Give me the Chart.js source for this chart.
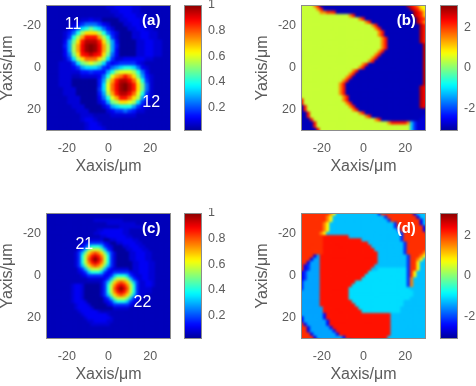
<!DOCTYPE html>
<html>
<head>
<meta charset="utf-8">
<script src="https://cdn.jsdelivr.net/npm/chart.js@4"></script>
<style>
  html, body { margin: 0; padding: 0; background: #fff; width: 476px; height: 386px; overflow: hidden; }
  .box { position: absolute; }
  canvas { filter: blur(0.4px); }
</style>
</head>
<body>
<script>
// --- Data: one character per cell, base 36, 0 = bottom of colour range, z = top ---
const ampA = [
  "2222222222222233444433222222222",
  "2222222222222223344443322222222",
  "2222222222222222334443322222222",
  "2222222222222222233444332222222",
  "2222222223343311113344433222222",
  "2222222346888643111334433222222",
  "222222358cehec853111334433" + "22222",
  "22222358ejnnnje853111334433" + "2222",
  "2222236ejpuuupje63111334433" + "2222",
  "222224ahnuxxxunha41111334433" + "222",
  "222225ajpvyzyvpja51111334433" + "222",
  "222224ajpvyzyvpja41111334433" + "222",
  "2222248hnuvxvunh841111334433" + "222",
  "2222236cjnrrrnjc633444" + "443322222",
  "22223336chjljhc645666643" + "2222222",
  "222233346accca658aceec843" + "222222",
  "22223333355655" + "5aejlllje84" + "222222",
  "2222333" + "223333" + "48elprurnha53" + "22222",
  "2222333" + "111111" + "5ajpuxxvrle63" + "22222",
  "2222333" + "111111" + "5clrvyzxunh83" + "22222",
  "22222333" + "11111" + "6clrvyzxunh83" + "22222",
  "22222333" + "11111" + "5ajpuxxvrle63" + "22222",
  "222222333" + "1111" + "48elpuurnja53" + "22222",
  "222222333" + "1111" + "35ahjnnljc632" + "22222",
  "2222222333" + "1111" + "35aceeea643" + "222222",
  "22222222333" + "1111" + "346686533" + "2222222",
  "2222222223332222333333222222222",
  "2222222223443222222222222222222",
  "2222222222344322222222222222222",
  "2222222222344432222222222222222",
  "2222222222344443222222222222222"
];
const ampC = [
  "22222222222222222222222222222222222222222",
  "22222222222222222222222222222222222222222",
  "22222222222222222222222222222222222222222",
  "22222222222222223333333332222222222222222",
  "22222222222222222222333333333222222222222",
  "22222222222222222222222233333332222222222",
  "22222222222222222334444443322222222222222",
  "22222222222222223344444443322222222222222",
  "22222222222222222233444444332222222222222",
  "22222222222222" + "33333" + "11" + "334444433" + "22222222222",
  "222222222222" + "346666643" + "11" + "33444433" + "2222222222",
  "22222222222" + "346beeeb643" + "111" + "3344433" + "222222222",
  "22222222222" + "46bhkkkhb64" + "1111" + "3344433" + "22222222",
  "2222222222" + "36bhnqsqnhb63" + "1111" + "3344433" + "2222222",
  "2222222222" + "36ekquwuqke63" + "1111" + "3344433" + "2222222",
  "2222222222" + "36ekswzwske63" + "1111" + "3344433" + "2222222",
  "2222222222" + "36ekquwuqke63" + "11111" + "3344433" + "222222",
  "2222222222" + "36bhnqsqnhb63" + "11111" + "3344433" + "222222",
  "22222222222" + "46bhkkkhb64" + "33333" + "1" + "3344433" + "222222",
  "22222222222" + "346beeeb6" + "44" + "6666643" + "344433" + "222222",
  "222222222222" + "3466666" + "44" + "6beeeb643" + "34433" + "222222",
  "22222222222222" + "33333" + "46bhkkkhb64" + "34433" + "222222",
  "222222222222222222" + "36bhnqsqnhb63" + "3443" + "222222",
  "222222222" + "3443" + "11111" + "36ekquwuqke63" + "3443" + "222222",
  "222222222" + "3443" + "11111" + "36ekswzwske63" + "3332" + "222222",
  "222222222" + "3443" + "11111" + "36ekquwuqke63" + "3332" + "222222",
  "222222222" + "3443" + "11111" + "36bhnqsqnhb63" + "3222" + "222222",
  "222222222" + "3443" + "111111" + "46bhkkkhb64" + "22222222222",
  "222222222" + "34443" + "11111" + "346beeeb643" + "22222222222",
  "2222222222" + "34443" + "11111" + "346666643" + "222222222222",
  "2222222222" + "344443" + "111111" + "33333" + "22222222222222",
  "22222222222344444322222222222222222222222",
  "22222222222234444444322222222222222222222",
  "22222222222223444444432222222222222222222",
  "22222222222222334444332222222222222222222",
  "22222222222222233333322222222222222222222",
  "22222222222222222222222222222222222222222",
  "22222222222222222222222222222222222222222",
  "22222222222222222222222222222222222222222",
  "22222222222222222222222222222222222222222",
  "22222222222222222222222222222222222222222"
];
const phaseB = [
  "kkkkkqu22222222222222222222222222xvtqnmll",
  "kkkkkqu222222222222222222222222222xvtqmll",
  "kkkkkkqu222222222222222222222222222xvtoml",
  "kkkkkkkqqttu222222222222222222222222xvtom",
  "kkkkkkkkkkkkkkkkqu222222222222222222xvtom",
  "kkkkkkkkkkkkkkkkkkkqu2222222222222222xutn",
  "kkkkkkkkkkkkkkkkkkkkkqu22222222222222xuqn",
  "kkkkkkkkkkkkkkkkkkkkkkkqu2222222222222xuq",
  "kkkkkkkkkkkkkkkkkkkkkkkkqu222222222222xuq",
  "kkkkkkkkkkkkkkkkkkkkkkkkkqu22222222222xuq",
  "kkkkkkkkkkkkkkkkkkkkkkkkkqu22222222222xuq",
  "kkkkkkkkkkkkkkkkkkkkkkkkkkqu2222222222xuq",
  "kkkkkkkkkkkkkkkkkkkkkkkkkkqu2222222222xuq",
  "kkkkkkkkkkkkkkkkkkkkkkkkkkqu22222222222xu",
  "kkkkkkkkkkkkkkkkkkkkkkkkkkqu22222222222xu",
  "5kkkkkkkkkkkkkkkkkkkkkkkkqu222222222222xu",
  "5kkkkkkkkkkkkkkkkkkkkkkkqu2222222222222xu",
  "5kkkkkkkkkkkkkkkkkkkkkkqu22222222222222xu",
  "5kkkkkkkkkkkkkkkkkkkkkqu222222222222222xu",
  "5kkkkkkkkkkkkkkkkkkkqu22222222222222222xu",
  "5kkkkkkkkkkkkkkkkkkqu222222222222222222xu",
  "5kkkkkkkkkkkkkkkkqu22222222222222222222xu",
  "5kkkkkkkkkkkkkkkqu222222222222222222222xu",
  "5kkkkkkkkkkkkkkqu2222222222222222222222xu",
  "5kkkkkkkkkkkkkqu22222222222222222222222xu",
  "5kkkkkkkkkkkkqu222222222222222222222222xu",
  "5kkkkkkkkkkkkqu22222222222222222222222xvu",
  "5kkkkkkkkkkkkqu22222222222222222222222xvu",
  "5kkkkkkkkkkkkqu22222222222222222222222xvu",
  "ukkkkkkkkkkkkkqu2222222222222222222222xvu",
  "3ukkkkkkkkkkkkqu2222222222222222222222xvu",
  "2ukkkkkkkkkkkkkqu222222222222222222222xvu",
  "22ukkkkkkkkkkkkkqu22222222222222222222xv2",
  "22ukkkkkkkkkkkkkkqu2222222222222222222223",
  "222ukkkkkkkkkkkkkkkqu22222222222222222223",
  "222ukkkkkkkkkkkkkkkkkqu222222222222222233",
  "2222ukkkkkkkkkkkkkkkkkkkqu222222222222333",
  "22222ukkkkkkkkkkkkkkkkkkkkkkquuuuuqb63333",
  "22222ukkkkkkkkkkkkkkkkkkkkkkkkkkkkkb63333",
  "222222ukkkkkkkkkkkkkkkkkkkkkkkkkkkkb63333",
  "222222ukkkkkkkkkkkkkkkkkkkkkkkkkkkkb63333"
];
const phaseD = [
  "ttttttttttqmbbbbbbbbbbb6ttttttttttt4bbbbb",
  "ttttttttttqmbbbbbbbbbbbbb6tttttttttt4bbbb",
  "tttttttttqmbbbbbbbbbbbbbbbb6ttttttttt4bbb",
  "tttttttttqmbbbbbbbbbbbbbbbbb6ttttttttt4bb",
  "ttttttttqmbbbbbbbbbbbbbbbbbbbb6ttttttt4bb",
  "ttttttttqmbbbbbbbbbbbbbbbbbbbb6tttttttt4b",
  "ttttttttqmbbbbbbbbbbbbbbbbbbbbb6ttttttt4b",
  "tttttttqmbbbbbbbbbbbbbbbbbbbbbbb6ttttttt4",
  "ttttttttuuuuuuuubbbbbbbbbbbbbbbb6tttttttt",
  "ttttttttuuuuuuuuuuuubbbbbbbbbbbb6tttttttt",
  "ttttttttuuuuuuuuuuuuuubbbbbbbbbbb6ttttttt",
  "ttttttttuuuuuuuuuuuuuuubbbbbbbbbb6ttttttt",
  "ttttttttuuuuuuuuuuuuuuuubbbbbbbbb6ttttttq",
  "ttttttttuuuuuuuuuuuuuuuuubbbbbbbb6tttttqm",
  "ttttt4auuuuuuuuuuuuuuuuuubbbbbbbbb6tttqmb",
  "tttt4aauuuuuuuuuuuuuuuuuubbbbbbbbb6ttqmbb",
  "ttt4aaauuuuuuuuuuuuuuuuuubbbbbbbbb6ttmbbb",
  "tt46aaauuuuuuuuuuuuuuuuubbbbbbbbbb6ttmbbb",
  "tt46aaauuuuuuuuuuuuuuuubbccccccccc6ttmbbb",
  "t46aaaauuuuuuuuuuuuuuucccccccccccc6tmbbbb",
  "t46aaaauuuuuuuuuuuuuuccccccccccccc6tmbbbb",
  "t46aaaauuuuuuuuuuuuucccccccccccccc6qbbbbb",
  "46aaaaauuuuuuuuuuucccccccccccccccc6qbbbbb",
  "46aaaaauuuuuuuuuuccccccccccccccccc6qbbbbb",
  "46aaaaauuuuuuuuucccccccccccccccccccbbbbbb",
  "4aaaaaauuuuuuuuuccccccccccccccccccccbbbbb",
  "4aaaaaauuuuuuuuuccccccccccccccccccccbbbbb",
  "4aaaaaauuuuuuuuucccccccccccccccccccbbbbbb",
  "4aaaaaauuuuuuuuuuccccccccccccccccbbbbbbbb",
  "4aaaaaauuuuuuuuuuucccccccccccccccbbbbbbbb",
  "4aaaaaaauuuuuuuuuuucccccccccccccbbbbbbbbb",
  "4aaaaaaauuuuuuuuuuuuccccccccccccbbbbbbbbb",
  "3aaaaaaa5uuuuuuuuuuuuuuuuuuuubbbbbbbbbbbb",
  "t4aaaaaa5uuuuuuuuuuuuuuuuuuuubbbbbbbbbbbb",
  "t4aaaaaaa5uuuuuuuuuuuuuuuuuuubbbbbbbbbbbb",
  "tt4aaaaaa5uuuuuuuuuuuuuuuuuuubbbbbbbbbbbb",
  "ttt4aaaaaa5uuuuuuuuuuuuuuuuuubbbbbbbbbbbb",
  "ttt4aaaaaaa5uuuuuuuuuuuuuuuuubbbbbbbbbbbb",
  "tttt4aaaaaaa5uuuuuuuuuuuuuuuubbbbbbbbbbbb",
  "ttttt4aaaaaaaa5uuuuuuuuuuuuubbbbbbbbbbbbb",
  "tttttt4aaaaaaaaa5uuuuuuuuuuubbbbbbbbbbbbb"
];
const axisTicks = [-20, 0, 20];
const ampBarTicks = [0.2, 0.4, 0.6, 0.8, 1];
const phaseBarTicks = [-2, 0, 2];
const barLevels = [0.0125,0.0375,0.0625,0.0875,0.1125,0.1375,0.1625,0.1875,0.2125,0.2375,
  0.2625,0.2875,0.3125,0.3375,0.3625,0.3875,0.4125,0.4375,0.4625,0.4875,
  0.5125,0.5375,0.5625,0.5875,0.6125,0.6375,0.6625,0.6875,0.7125,0.7375,
  0.7625,0.7875,0.8125,0.8375,0.8625,0.8875,0.9125,0.9375,0.9625,0.9875];
const labelsA = [["11", -17, -20.5, false], ["12", 20.5, 16.5, false], ["(a)", 20.5, -22.5, true]];
const labelsB = [["(b)", 20.5, -22.5, true]];
const labelsC = [["21", -11.6, -15, false], ["22", 16.3, 12.5, false], ["(c)", 20.5, -22.5, true]];
const labelsD = [["(d)", 20.5, -22.5, true]];

const GREY = "#5c5c5c";
const FONT = "'Liberation Sans', Arial, sans-serif";

// --- Colour map ---
function jet(v) {
  const c = k => Math.round(255 * Math.min(1, Math.max(0, 1.5 - Math.abs(4 * v - k))));
  return `rgb(${c(3)},${c(2)},${c(1)})`;
}

// --- Page helpers ---
function addCanvas(left, top, w, h) {
  const box = document.createElement("div");
  box.className = "box";
  box.style.cssText = `left:${left}px;top:${top}px;width:${w}px;height:${h}px`;
  const cv = document.createElement("canvas");
  cv.width = w; cv.height = h;
  box.appendChild(cv);
  document.body.appendChild(box);
  return cv;
}

function setTicks(values) {
  return s => { s.ticks = values.map(v => ({ value: v })); };
}

// scale boxes would otherwise reserve room for half a tick label
function fixSize(s, key, size) {
  s[key] = size;
  s.paddingTop = s.paddingBottom = s.paddingLeft = s.paddingRight = 0;
}

// soft look of the source picture, and the frame + text on top
const panelPlugin = {
  id: "panel",
  afterDatasetsDraw(chart, args, opts) {
    const { ctx, chartArea: a, canvas } = chart;
    ctx.save();
    ctx.beginPath();
    ctx.rect(a.left, a.top, a.width, a.height);
    ctx.clip();
    ctx.filter = `blur(${opts.blur}px)`;
    ctx.drawImage(canvas, a.left, a.top, a.width, a.height, a.left - 2, a.top - 2, a.width + 4, a.height + 4);
    ctx.restore();
  },
  afterDraw(chart, args, opts) {
    const { ctx, chartArea: a, scales } = chart;
    ctx.save();
    ctx.strokeStyle = "#8c8c8c";
    ctx.lineWidth = 1;
    ctx.strokeRect(a.left + 0.5, a.top + 0.5, a.width - 1, a.height - 1);
    ctx.textAlign = "center";
    ctx.textBaseline = "middle";
    ctx.fillStyle = "#fff";
    (opts.labels || []).forEach(([t, x, y, bold]) => {
      ctx.font = (bold ? "bold 15px " : "16px ") + FONT;
      ctx.fillText(t, scales.x.getPixelForValue(x), scales.y.getPixelForValue(y));
    });
    ctx.restore();
  }
};
Chart.register(panelPlugin);

// --- Heat map panel ---
function drawPanel(left, top, rows, labels, blur) {
  const n = rows.length;
  const pts = [], colors = [];
  rows.forEach((row, j) => {
    [...row].forEach((ch, i) => {
      const v = parseInt(ch, 36) / 35;
      pts.push({ x: -30 + i * 60 / (n - 1), y: -30 + j * 60 / (n - 1) });
      colors.push(jet(v));
    });
  });
  const cell = 125 / (n - 1);
  new Chart(addCanvas(left, top, 176, 180), {
    type: "scatter",
    data: { datasets: [{
      data: pts,
      clip: 0,
      pointStyle: "rect",
      pointRadius: (cell + 0.8) / Math.SQRT2,
      pointBorderWidth: 0,
      pointBackgroundColor: colors
    }] },
    options: {
      responsive: false,
      animation: false,
      events: [],
      layout: { padding: { top: 5, right: 5, left: 0, bottom: 0 } },
      plugins: { legend: { display: false }, tooltip: { enabled: false }, panel: { labels, blur } },
      scales: {
        x: {
          type: "linear", min: -30, max: 30,
          afterBuildTicks: setTicks(axisTicks),
          afterFit: s => fixSize(s, "height", 49),
          grid: { display: false, drawTicks: false },
          border: { display: false },
          ticks: { color: GREY, font: { family: FONT, size: 12.5 }, padding: 10, maxRotation: 0, callback: v => String(v) },
          title: { display: true, text: "Xaxis/\u03bcm", color: GREY, font: { family: FONT, size: 16, lineHeight: 1 }, padding: { top: 0, bottom: 5 } }
        },
        y: {
          type: "linear", min: -30, max: 30, reverse: true,
          afterBuildTicks: setTicks(axisTicks),
          afterFit: s => fixSize(s, "width", 46),
          grid: { display: false, drawTicks: false },
          border: { display: false },
          ticks: { color: GREY, font: { family: FONT, size: 12.5 }, padding: 5, callback: v => String(v) },
          title: { display: true, text: "Yaxis/\u03bcm", color: GREY, font: { family: FONT, size: 16, lineHeight: 1 }, padding: { top: 0, bottom: 0 } }
        }
      }
    }
  });
}

// --- Colour bar ---
function drawBar(left, top, lo, hi, tickVals) {
  new Chart(addCanvas(left, top, 54, 180), {
    type: "bar",
    data: { datasets: [{
      data: barLevels.map(l => ({ x: [0, 1], y: lo + l * (hi - lo) })),
      backgroundColor: barLevels.map(jet),
      borderWidth: 0,
      barThickness: 4,
      clip: 0
    }] },
    options: {
      responsive: false,
      animation: false,
      events: [],
      indexAxis: "y",
      layout: { padding: { top: 5, right: 0, left: 0, bottom: 49 } },
      plugins: { legend: { display: false }, tooltip: { enabled: false }, panel: { labels: [], blur: 0.8 } },
      scales: {
        x: { type: "linear", min: 0, max: 1, display: false },
        y: {
          type: "linear", position: "right", min: lo, max: hi, offset: false,
          afterBuildTicks: setTicks(tickVals),
          afterFit: s => fixSize(s, "width", 36),
          grid: { display: false, drawTicks: false },
          border: { display: false },
          ticks: { color: GREY, font: { family: FONT, size: 12.5 }, padding: 6, callback: v => String(v) }
        }
      }
    }
  });
}

// --- Init ---
drawPanel(0, 0, ampA, labelsA, 1.2);
drawBar(184, 0, 0.015, 1, ampBarTicks);
drawPanel(255, 0, phaseB, labelsB, 1.1);
drawBar(440, 0, -3.14, 3.14, phaseBarTicks);
drawPanel(0, 208, ampC, labelsC, 0.9);
drawBar(184, 208, 0.015, 1, ampBarTicks);
drawPanel(255, 208, phaseD, labelsD, 1.1);
drawBar(440, 208, -3.14, 3.14, phaseBarTicks);
</script>
</body>
</html>
